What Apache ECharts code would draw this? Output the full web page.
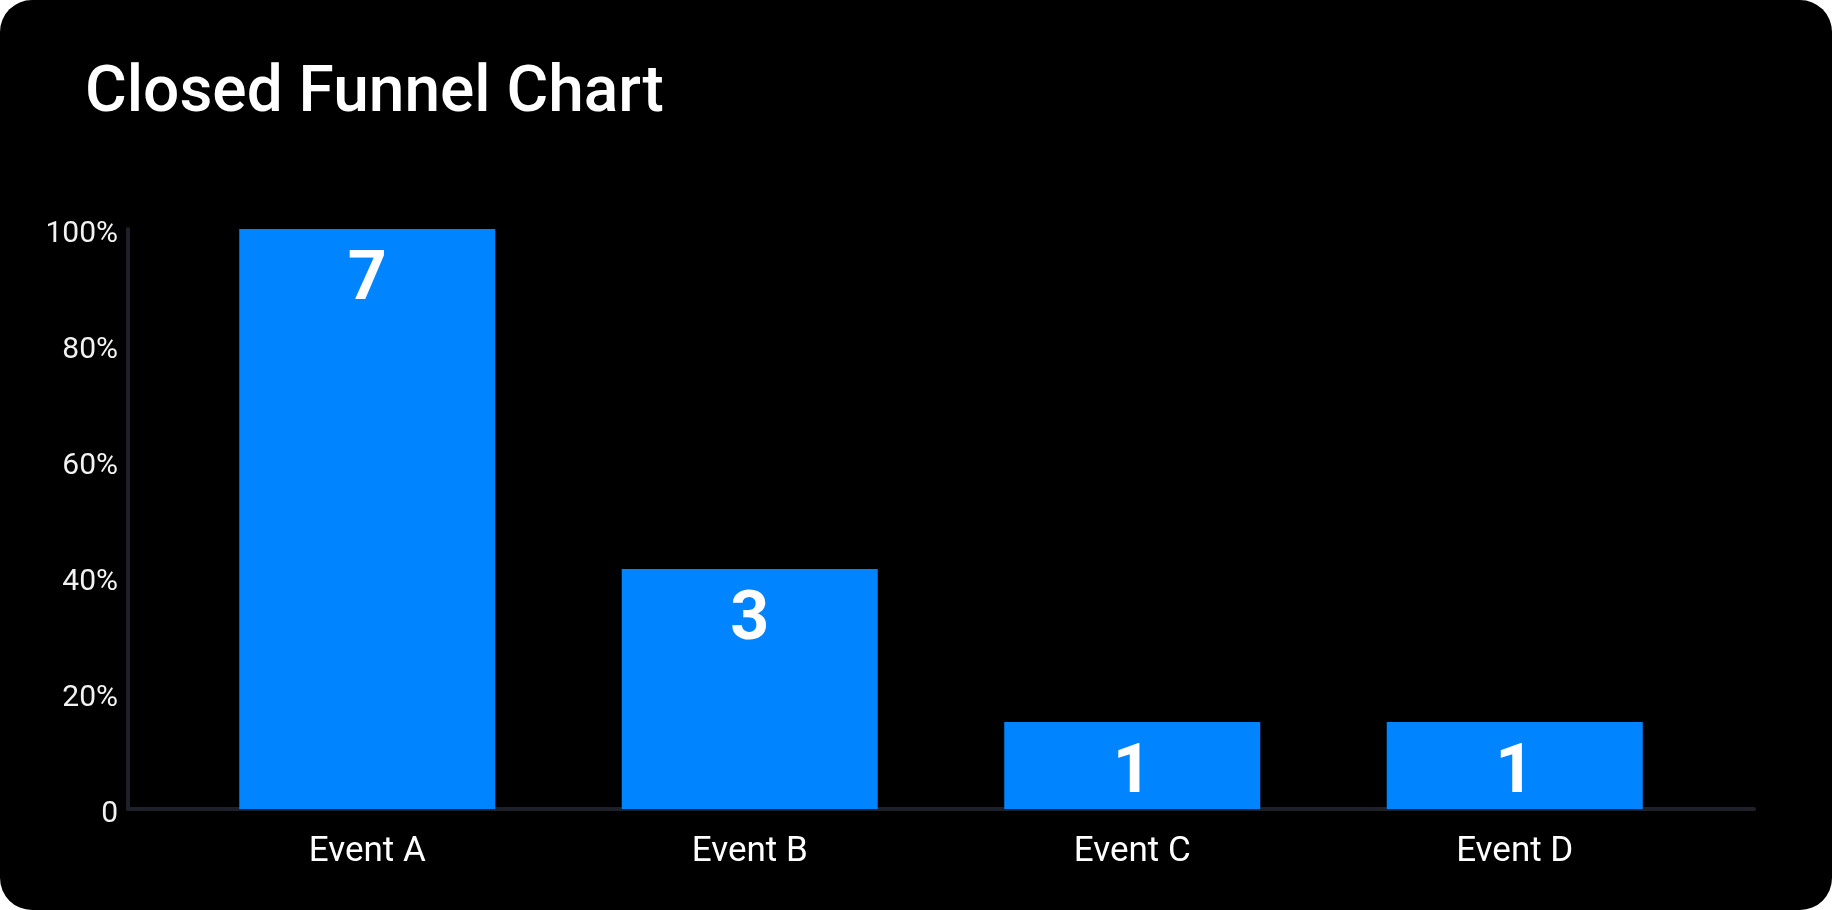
<!DOCTYPE html>
<html>
<head>
<meta charset="utf-8">
<script src="https://cdn.jsdelivr.net/npm/echarts@6/dist/echarts.min.js"></script>
<style>
  html, body { margin: 0; padding: 0; background: #ffffff; }
  #chart { width: 1832px; height: 910px; background: #000000; border-radius: 32px; overflow: hidden; }
</style>
</head>
<body>
<div id="chart"></div>
<script>
const titleText = 'Closed Funnel Chart';
const categories = ['Event A', 'Event B', 'Event C', 'Event D'];
const counts = [7, 3, 1, 1];
const percentValues = [100, 41.4, 15, 15];
const yTicks = [0, 20, 40, 60, 80, 100];

const chart = echarts.init(document.getElementById('chart'), null, { renderer: 'canvas' });

const barData = percentValues.map((v, i) => ({ value: v, count: counts[i] }));

chart.setOption({
  backgroundColor: 'transparent',
  animation: false,
  title: {
    text: titleText,
    left: 80,
    top: 58,
    textStyle: { color: '#ffffff', fontFamily: 'Roboto', fontWeight: 500, fontSize: 64 }
  },
  grid: [
    { left: 128, right: 78, top: 229, bottom: 101, containLabel: false },
    { left: 176, right: 126, top: 229, bottom: 101, containLabel: false }
  ],
  xAxis: [
    {
      gridIndex: 0, type: 'value', min: 0, max: 1,
      axisLine: { show: true, lineStyle: { color: '#1e2129', width: 4 } },
      axisTick: { show: false }, axisLabel: { show: false }, splitLine: { show: false }
    },
    {
      gridIndex: 1, type: 'category', data: categories,
      axisLine: { show: false }, axisTick: { show: false }, splitLine: { show: false },
      axisLabel: { color: '#ffffff', fontFamily: 'Roboto', fontSize: 35, margin: 26 }
    }
  ],
  yAxis: [
    {
      gridIndex: 0, type: 'value', min: 0, max: 100, interval: 20,
      axisLine: { show: true, lineStyle: { color: '#1e2129', width: 4 } },
      axisTick: { show: false }, splitLine: { show: false },
      axisLabel: {
        color: '#f2f2f2', fontFamily: 'Roboto', fontSize: 30, margin: 10,
        formatter: v => '{t|' + (v === 0 ? '0' : v + '%') + '}',
        rich: {
          t: { color: '#f2f2f2', fontFamily: 'Roboto', fontSize: 30, padding: [10, 0, 0, 0] }
        }
      }
    },
    {
      gridIndex: 1, type: 'value', min: 0, max: 100, interval: 20, show: false
    }
  ],
  series: [
    {
      type: 'bar', xAxisIndex: 1, yAxisIndex: 1,
      data: barData,
      barWidth: 256,
      itemStyle: { color: '#0084ff' },
      label: {
        show: true, position: 'insideTop', distance: 19,
        color: '#ffffff', fontFamily: 'Roboto', fontWeight: 700, fontSize: 68,
        formatter: p => String(p.data.count)
      }
    }
  ]
});
</script>
</body>
</html>
